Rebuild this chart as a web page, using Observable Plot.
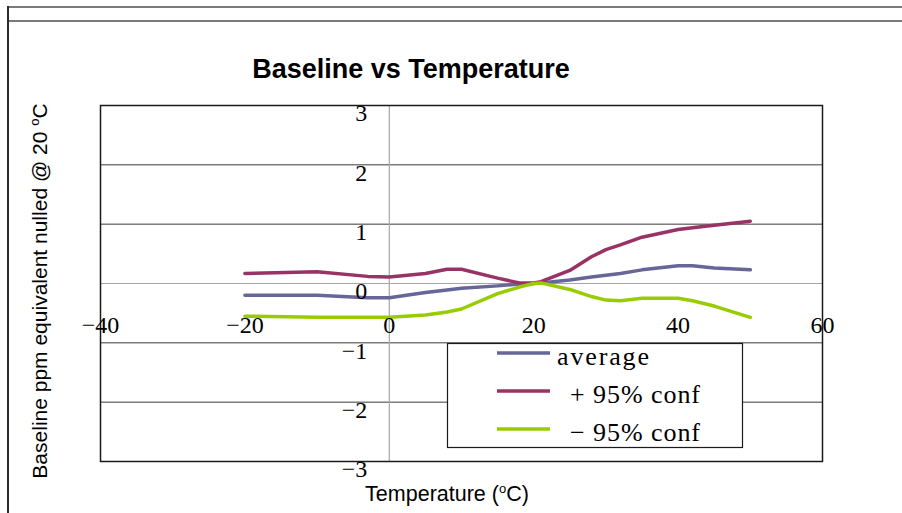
<!DOCTYPE html>
<html>
<head>
<meta charset="utf-8">
<script src="https://cdn.jsdelivr.net/npm/d3@7"></script>
<script src="https://cdn.jsdelivr.net/npm/@observablehq/plot@0.6"></script>
<style>
  html, body { margin: 0; padding: 0; background: #fff; }
  #wrap { position: relative; width: 902px; height: 513px; overflow: hidden; }
</style>
</head>
<body>
<div id="wrap"></div>
<script>
// ---- data ----
const temps   = [-20, -10, -3, 0, 5, 8, 10, 15, 18, 20, 21, 25, 28, 30, 32, 35, 40, 42, 45, 50];
const average = [-0.20, -0.20, -0.24, -0.24, -0.15, -0.11, -0.08, -0.04, -0.01, 0.00, 0.01, 0.06, 0.11, 0.14, 0.17, 0.23, 0.30, 0.30, 0.26, 0.23];
const plus95  = [0.17, 0.20, 0.12, 0.11, 0.17, 0.24, 0.24, 0.09, 0.01, 0.01, 0.03, 0.22, 0.45, 0.57, 0.65, 0.78, 0.91, 0.94, 0.98, 1.05];
const minus95 = [-0.55, -0.57, -0.57, -0.57, -0.53, -0.48, -0.43, -0.17, -0.06, 0.00, 0.01, -0.10, -0.22, -0.28, -0.29, -0.25, -0.25, -0.29, -0.38, -0.57];
const seriesNames = ["average", "+ 95% conf", "− 95% conf"];
const seriesColors = ["#666699", "#993366", "#99CC00"];
const xTicks = [-40, -20, 0, 20, 40, 60];
const yTicks = [-3, -2, -1, 0, 1, 2, 3];
const gridY = [-3, -2, -1, 1, 2, 3];

const seriesValues = [average, plus95, minus95];
const rows = [];
seriesValues.forEach((vals, i) => {
  temps.forEach((t, j) => rows.push({series: seriesNames[i], t, v: vals[j]}));
});

const fmt = d => d < 0 ? "\u2212" + Math.abs(d) : String(d);
const serif = "'Liberation Serif', 'DejaVu Serif', serif";
const sans = "'Liberation Sans', Arial, sans-serif";

const chart = Plot.plot({
  width: 902,
  height: 513,
  marginLeft: 100,
  marginRight: 80,
  marginTop: 105,
  marginBottom: 52,
  x: {domain: [-40, 60], axis: null},
  y: {domain: [-3, 3], axis: null},
  color: {domain: seriesNames, range: seriesColors},
  style: {background: "transparent", overflow: "visible"},
  marks: [
    Plot.ruleY(gridY, {stroke: "#3a3a3a", strokeWidth: 1}),
    Plot.ruleY([0], {stroke: "#a6a6a6", strokeWidth: 1.2}),
    Plot.ruleX([0], {stroke: "#a6a6a6", strokeWidth: 1.2}),
    Plot.frame({stroke: "#1a1a1a", strokeWidth: 1.5}),
    Plot.line(rows, {x: "t", y: "v", z: "series", stroke: "series", strokeWidth: 3.5, strokeLinejoin: "round"}),
    Plot.text(yTicks, {x: 0, y: d => d, text: fmt, textAnchor: "end", dx: -22, dy: 8,
      fontSize: 24, fontFamily: serif, fill: "#000"}),
    Plot.text(xTicks, {x: d => d, y: 0, text: fmt, dy: 42,
      fontSize: 24, fontFamily: serif, fill: "#000"})
  ]
});

const svg = d3.select(chart);

// outer chart-area frame
svg.append("line").attr("x1", 7).attr("x2", 902).attr("y1", 7).attr("y2", 7)
  .attr("stroke", "#7a7a7a").attr("stroke-width", 2);
svg.append("line").attr("x1", 8).attr("x2", 902).attr("y1", 21).attr("y2", 21)
  .attr("stroke", "#7a7a7a").attr("stroke-width", 2);
svg.append("line").attr("x1", 8).attr("x2", 8).attr("y1", 6).attr("y2", 513)
  .attr("stroke", "#2a2a2a").attr("stroke-width", 2);

// title
svg.append("text").attr("x", 411).attr("y", 78).attr("text-anchor", "middle")
  .attr("font-family", sans).attr("font-weight", "bold").attr("font-size", 27)
  .text("Baseline vs Temperature");

// y axis title
const yt = svg.append("text").attr("transform", "translate(47,291) rotate(-90)")
  .attr("text-anchor", "middle").attr("font-family", sans).attr("font-size", 21);
yt.append("tspan").text("Baseline ppm equivalent nulled @ 20 ");
yt.append("tspan").attr("font-size", 13).attr("dy", -8).text("o");
yt.append("tspan").attr("dy", 8).text("C");

// x axis title
const xt = svg.append("text").attr("x", 447).attr("y", 501)
  .attr("text-anchor", "middle").attr("font-family", sans).attr("font-size", 21.5);
xt.append("tspan").text("Temperature (");
xt.append("tspan").attr("font-size", 13).attr("dy", -8).text("o");
xt.append("tspan").attr("dy", 8).text("C)");

// legend
const lg = svg.append("g");
lg.append("rect").attr("x", 447.5).attr("y", 343.5).attr("width", 295).attr("height", 104)
  .attr("fill", "#fff").attr("stroke", "#1a1a1a").attr("stroke-width", 1.2);
const sampleY = [353, 391, 429];
const textX = [557, 570, 570];
const textLabels = ["average", "+ 95% conf", "\u2212 95% conf"];
const textLens = [92, 130, 130];
seriesNames.forEach((s, i) => {
  lg.append("line").attr("x1", 497).attr("x2", 550).attr("y1", sampleY[i]).attr("y2", sampleY[i])
    .attr("stroke", seriesColors[i]).attr("stroke-width", 3.5);
  lg.append("text").attr("x", textX[i]).attr("y", sampleY[i] + 12)
    .attr("text-anchor", "start")
    .attr("font-family", serif).attr("font-size", 26)
    .attr("textLength", textLens[i]).attr("lengthAdjust", "spacing")
    .text(textLabels[i]);
});

document.getElementById("wrap").appendChild(chart);
</script>
</body>
</html>
